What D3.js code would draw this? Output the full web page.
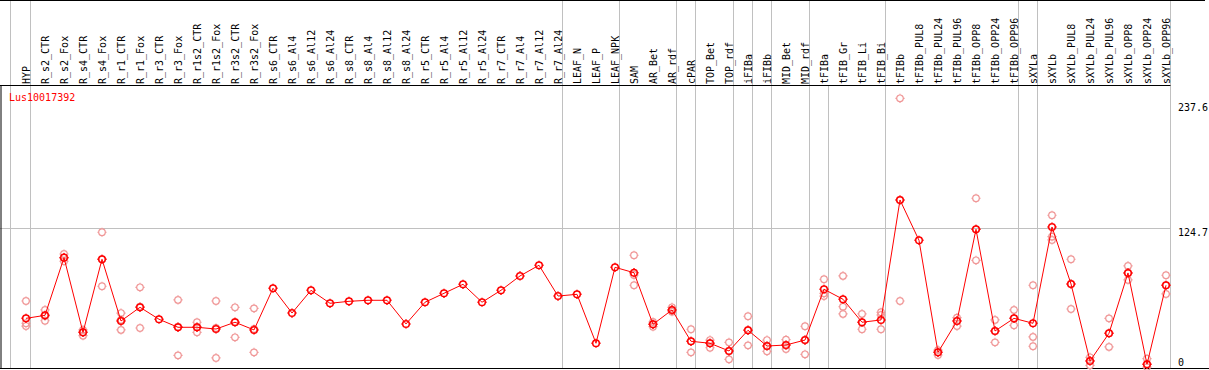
<!DOCTYPE html>
<html>
<head>
<meta charset="utf-8">
<script src="https://cdn.jsdelivr.net/npm/d3@7"></script>
<style>
  body { margin: 0; background: #fff; }
  svg { display: block; }
  text { font-family: "DejaVu Sans Mono", monospace; font-size: 10px; }
</style>
</head>
<body>
<div id="chart"></div>
<script>
const geneId = "Lus10017392";

const samples = [
    "HYP", "R_s2_CTR", "R_s2_Fox", "R_s4_CTR", "R_s4_Fox", "R_r1_CTR", "R_r1_Fox",
    "R_r3_CTR", "R_r3_Fox", "R_r1s2_CTR", "R_r1s2_Fox", "R_r3s2_CTR", "R_r3s2_Fox",
    "R_s6_CTR", "R_s6_Al4", "R_s6_Al12", "R_s6_Al24", "R_s8_CTR", "R_s8_Al4", "R_s8_Al12",
    "R_s8_Al24", "R_r5_CTR", "R_r5_Al4", "R_r5_Al12", "R_r5_Al24", "R_r7_CTR", "R_r7_Al4",
    "R_r7_Al12", "R_r7_Al24", "LEAF_N", "LEAF_P", "LEAF_NPK", "SAM", "AR_Bet", "AR_rdf",
    "cPAR", "TOP_Bet", "TOP_rdf", "iFIBa", "iFIBb", "MID_Bet", "MID_rdf", "tFIBa",
    "tFIB_Gr", "tFIB_Li", "tFIB_Bi", "tFIBb", "tFIBb_PUL8", "tFIBb_PUL24", "tFIBb_PUL96",
    "tFIBb_OPP8", "tFIBb_OPP24", "tFIBb_OPP96", "sXYLa", "sXYLb", "sXYLb_PUL8",
    "sXYLb_PUL24", "sXYLb_PUL96", "sXYLb_OPP8", "sXYLb_OPP24", "sXYLb_OPP96"
];

// number of samples in each tissue group (separated by grey lines)
const groupSizes = [1, 28, 3, 3, 1, 2, 1, 1, 2, 1, 3, 7, 1, 7];
// group separators that are only drawn inside the plot, not through the header
const plotOnlySeps = ["tFIBa"];

// mean expression per sample
const means = [
    46.1, 48.7, 98.9, 33.9, 97.5, 43.8, 55.7, 45.3, 38.3, 38.3,
    36.8, 42.7, 36.0, 72.3, 50.7, 70.5, 59.2, 60.9, 61.8, 61.8,
    41.2, 60.1, 67.9, 75.7, 60.1, 70.5, 83.0, 92.3, 65.5, 67.0,
    24.4, 90.5, 85.8, 40.9, 53.4, 26.1, 24.4, 17.7, 35.7, 22.0,
    22.9, 27.2, 71.4, 62.7, 42.7, 44.7, 149.1, 114.0, 16.5, 43.8,
    123.6, 35.1, 46.1, 41.8, 125.6, 76.0, 9.0, 33.1, 85.6, 6.1,
    74.9
];

// individual replicates per sample
const replicates = [
    [61.2, 41.8, 39.4], [53.4, 48.1, 44.0], [102.1, 99.2, 95.8], [36.0, 33.8, 31.0],
    [121.0, 97.5, 74.0], [50.7, 44.7, 36.0], [73.1, 56.2, 37.7], [],
    [62.1, 38.8, 13.9], [42.7, 38.6, 33.9], [61.2, 37.7, 11.6], [55.7, 42.9, 29.6],
    [54.8, 36.8, 16.5], [], [], [], [], [], [], [], [], [], [], [], [], [], [], [], [],
    [], [], [],
    [101.0, 83.8, 74.9], [42.9, 40.9, 38.8], [55.7, 53.4, 51.9], [36.6, 26.1, 16.5],
    [27.2, 24.6, 20.5], [25.2, 17.7, 10.4], [47.9, 36.0, 22.6], [27.2, 22.0, 17.4],
    [27.5, 22.5, 19.4], [39.2, 27.2, 14.8], [80.1, 67.9, 65.5], [83.0, 56.2, 49.9],
    [49.9, 42.5, 36.6], [51.4, 49.0, 36.6], [237.6, 149.1, 61.2], [],
    [18.5, 16.5, 14.2], [46.7, 43.8, 39.4], [150.6, 123.6, 96.6], [44.7, 35.1, 25.2],
    [53.4, 46.1, 40.0], [74.9, 29.9, 21.8], [135.8, 117.2, 114.3], [97.5, 76.0, 54.2],
    [12.2, 9.0, 5.2], [46.1, 33.1, 21.2], [91.7, 85.6, 79.5], [11.0, 6.1, 3.7],
    [83.6, 74.9, 67.3]
];

const yTicks = [0, 124.7, 237.6];

const width = 1209;
const height = 370;
const headerBottom = 85.5;
const plotBottom = 368.5;
const plotRight = 1170.5;

const svg = d3.select("#chart")
    .append("svg")
    .attr("width", width)
    .attr("height", height);

const x = d3.scalePoint()
    .domain(samples)
    .range([26, 1166]);

const y = d3.scaleLinear()
    .domain([0, 237.6])
    .range([371.3, 98.3]);

// separator positions, derived from group sizes
let idx = 0;
const seps = [{ x: x(samples[0]) - 15.5, top: 0 }];
groupSizes.forEach(n => {
    idx += n;
    const last = samples[idx - 1];
    seps.push({ x: x(last) + 4.5, top: plotOnlySeps.includes(last) ? headerBottom : 0 });
});

svg.append("g")
    .selectAll("line")
    .data(seps)
    .enter().append("line")
    .attr("x1", d => Math.round(d.x) - 0.5)
    .attr("x2", d => Math.round(d.x) - 0.5)
    .attr("y1", d => d.top)
    .attr("y2", plotBottom)
    .attr("stroke", "#c0c0c0");

// horizontal grid for middle tick
svg.append("line")
    .attr("x1", 0)
    .attr("x2", plotRight)
    .attr("y1", Math.round(y(124.7)) + 0.5)
    .attr("y2", Math.round(y(124.7)) + 0.5)
    .attr("stroke", "#c0c0c0");

// frame
svg.append("line").attr("x1", 0).attr("x2", 1205).attr("y1", 0.5).attr("y2", 0.5).attr("stroke", "#000");
svg.append("line").attr("x1", 0).attr("x2", plotRight).attr("y1", headerBottom).attr("y2", headerBottom).attr("stroke", "#000");
svg.append("line").attr("x1", 1).attr("x2", 1).attr("y1", headerBottom).attr("y2", plotBottom).attr("stroke", "#000");
svg.append("line").attr("x1", 0).attr("x2", width).attr("y1", plotBottom).attr("y2", plotBottom).attr("stroke", "#000");

// sample labels in header
svg.append("g")
    .selectAll("text")
    .data(samples)
    .enter().append("text")
    .attr("transform", d => `translate(${x(d)}, 84) rotate(-90)`)
    .attr("dominant-baseline", "central")
    .attr("fill", "#000")
    .text(d => d);

// right-hand value labels
svg.append("g")
    .selectAll("text")
    .data(yTicks)
    .enter().append("text")
    .attr("x", 1178)
    .attr("y", d => Math.max(107.3, Math.min(362.3, y(d) + 4.3)))
    .attr("dominant-baseline", "central")
    .attr("fill", "#000")
    .text(d => d);

svg.append("text")
    .attr("x", 9)
    .attr("y", 97)
    .attr("dominant-baseline", "central")
    .attr("fill", "#ff0000")
    .text(geneId);

// marker: ring with four small ticks
const markerPath = "M-3.3,0A3.3,3.3 0 1,0 3.3,0A3.3,3.3 0 1,0 -3.3,0" +
    "M0,-3.3V-4.6M0,3.3V4.6M-3.3,0H-4.6M3.3,0H4.6";

const repPoints = [];
replicates.forEach((r, i) => r.forEach(v => repPoints.push({ s: samples[i], v: v })));

svg.append("g")
    .selectAll("path")
    .data(repPoints)
    .enter().append("path")
    .attr("d", markerPath)
    .attr("transform", d => `translate(${x(d.s)}, ${y(d.v)})`)
    .attr("fill", "none")
    .attr("stroke", "#f09898")
    .attr("stroke-width", 1.2);

const meanData = samples.map((s, i) => ({ s: s, v: means[i] }));

svg.append("path")
    .datum(meanData)
    .attr("fill", "none")
    .attr("stroke", "#ff0000")
    .attr("stroke-width", 1)
    .attr("d", d3.line().x(d => x(d.s)).y(d => y(d.v)));

svg.append("g")
    .selectAll("path")
    .data(meanData)
    .enter().append("path")
    .attr("d", markerPath)
    .attr("transform", d => `translate(${x(d.s)}, ${y(d.v)})`)
    .attr("fill", "none")
    .attr("stroke", "#ff0000")
    .attr("stroke-width", 1.5);
</script>
</body>
</html>
